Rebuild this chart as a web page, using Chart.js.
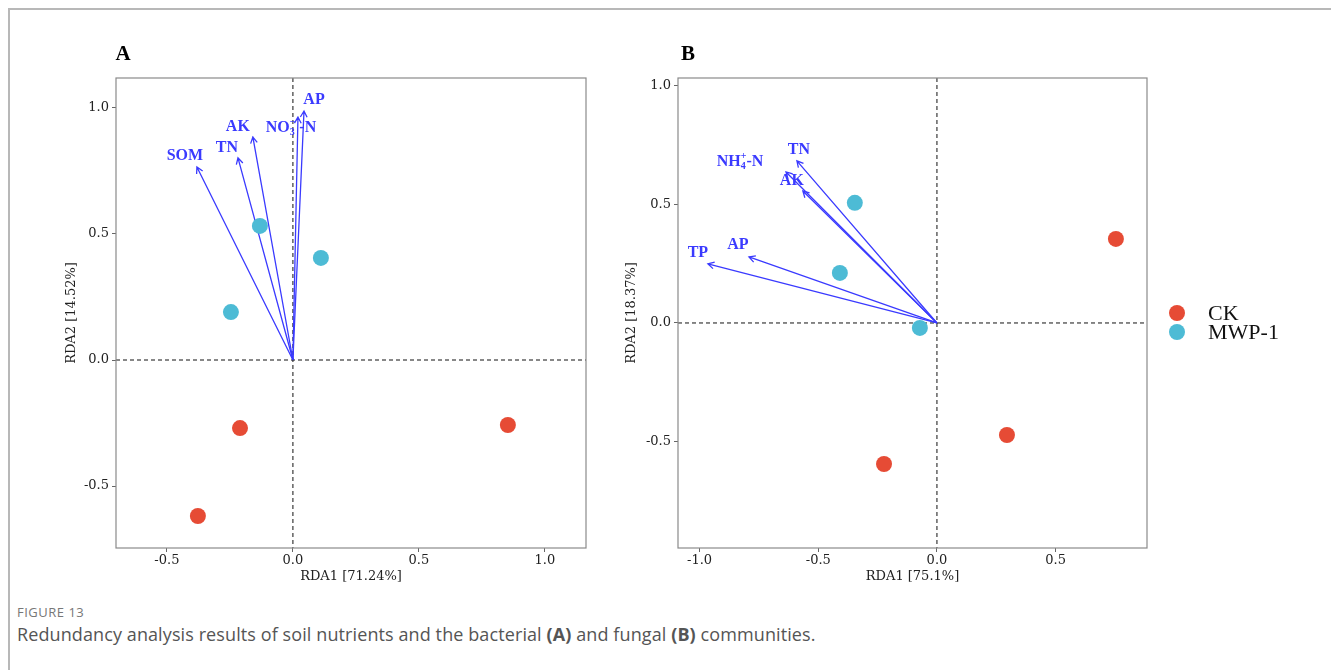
<!DOCTYPE html>
<html>
<head>
<meta charset="utf-8">
<script src="https://cdn.jsdelivr.net/npm/chart.js@4.4.0/dist/chart.umd.min.js"></script>
<style>
    body { margin: 0; width: 1331px; height: 670px; background: #fff; overflow: hidden; position: relative; }
    .frame { position: absolute; left: 8px; top: 8px; width: 1340px; height: 700px; border-top: 2px solid #b8b8b8; border-left: 2px solid #b8b8b8; }
    #chartA { position: absolute; left: 60px; top: 0; }
    #chartB { position: absolute; left: 620px; top: 0; }
    .fig { position: absolute; left: 17px; top: 603px; font-family: 'Open Sans'; font-size: 13px; letter-spacing: 0.5px; color: #777; }
    .cap { position: absolute; left: 17px; top: 622px; font-family: 'Open Sans'; font-size: 18px; letter-spacing: 0.1px; color: #555; }
</style>
</head>
<body>
<div class="frame"></div>
<canvas id="chartA" width="560" height="600"></canvas>
<canvas id="chartB" width="711" height="600"></canvas>
<div class="fig">FIGURE 13</div>
<div class="cap">Redundancy analysis results of soil nutrients and the bacterial <b>(A)</b> and fungal <b>(B)</b> communities.</div>
<script>
// groups
const groups = ['CK', 'MWP-1'];
const groupColors = ['#E64B35', '#4DBBD5'];

// A: bacterial community
const ckA_x = [-0.21, 0.853, -0.377];
const ckA_y = [-0.27, -0.258, -0.619];
const mwpA_x = [-0.131, 0.111, -0.246];
const mwpA_y = [0.532, 0.405, 0.19];
const envA_names = ['SOM', 'TN', 'AK', 'NO3-N', 'AP'];
const envA_x = [-0.381, -0.218, -0.159, 0.020, 0.044];
const envA_y = [0.766, 0.802, 0.885, 0.964, 0.988];
const ticksA_x = [-0.5, 0, 0.5, 1.0];
const ticksA_y = [-0.5, 0, 0.5, 1.0];

// B: fungal community
const ckB_x = [0.754, 0.295, -0.223];
const ckB_y = [0.354, -0.472, -0.594];
const mwpB_x = [-0.346, -0.409, -0.072];
const mwpB_y = [0.506, 0.211, -0.021];
const envB_names = ['TN', 'NH4-N', 'AK', 'AP', 'TP'];
const envB_x = [-0.590, -0.636, -0.565, -0.792, -0.965];
const envB_y = [0.683, 0.636, 0.556, 0.278, 0.249];
const ticksB_x = [-1.0, -0.5, 0, 0.5];
const ticksB_y = [-0.5, 0, 0.5, 1.0];

// label nudges (px) so text sits like the repelled labels in the figure
const labelOffsetA = [[-12, -11], [-11, -10], [-15, -10], [-7, 11], [10, -11]];
const labelOffsetB = [[2, -11], [-46, -10], [-11, -10], [-11, -12], [-10, -11]];

const arrowColor = '#3a3aff';
const serif = 'DejaVu Serif';

function toPoints(xs, ys) {
    return xs.map((x, i) => ({ x: x, y: ys[i] }));
}

// pieces: [text, 0 normal | 1 subscript | -1 superscript]
function labelParts(name) {
    if (name === 'NO3-N') return [['NO', 0], ['3', 1], ['\u2212', -1], [' -N', 0]];
    if (name === 'NH4-N') return [['NH', 0], ['4', 1], ['+', -1], ['-N', 0]];
    return [[name, 0]];
}

function drawLabel(ctx, name, cx, cy) {
    const parts = labelParts(name);
    const big = 'bold 16px "Liberation Serif"';
    const small = 'bold 10px "Liberation Serif"';
    // measure, stacking sub + sup at the same x
    let w = 0;
    for (let i = 0; i < parts.length; i++) {
        const p = parts[i];
        ctx.font = p[1] === 0 ? big : small;
        let pw = ctx.measureText(p[0]).width;
        if (p[1] === 1 && parts[i + 1] && parts[i + 1][1] === -1) {
            pw = Math.max(pw, ctx.measureText(parts[i + 1][0]).width);
            i++;
        }
        w += pw;
    }
    let x = cx - w / 2;
    ctx.fillStyle = arrowColor;
    ctx.textBaseline = 'middle';
    ctx.textAlign = 'left';
    for (let i = 0; i < parts.length; i++) {
        const p = parts[i];
        if (p[1] === 0) {
            ctx.font = big;
            ctx.fillText(p[0], x, cy);
            x += ctx.measureText(p[0]).width;
        } else {
            ctx.font = small;
            ctx.fillText(p[0], x, cy + (p[1] === 1 ? 4 : -6));
            let pw = ctx.measureText(p[0]).width;
            if (p[1] === 1 && parts[i + 1] && parts[i + 1][1] === -1) {
                ctx.fillText(parts[i + 1][0], x, cy - 6);
                pw = Math.max(pw, ctx.measureText(parts[i + 1][0]).width);
                i++;
            }
            x += pw;
        }
    }
}

function makeRdaPlugin(cfg) {
    return {
        id: 'rda' + cfg.letter,
        beforeDatasetsDraw(chart) {
            const ctx = chart.ctx;
            const a = chart.chartArea;
            const xs = chart.scales.x, ys = chart.scales.y;
            const x0 = xs.getPixelForValue(0), y0 = ys.getPixelForValue(0);
            ctx.save();
            // dashed zero lines
            ctx.strokeStyle = '#111';
            ctx.lineWidth = 1;
            ctx.setLineDash([4, 3]);
            ctx.beginPath();
            ctx.moveTo(a.left, y0); ctx.lineTo(a.right, y0);
            ctx.moveTo(x0, a.top); ctx.lineTo(x0, a.bottom);
            ctx.stroke();
            ctx.setLineDash([]);
            // environmental arrows
            ctx.strokeStyle = arrowColor;
            ctx.lineWidth = 1.3;
            cfg.names.forEach((n, i) => {
                const tx = xs.getPixelForValue(cfg.xs[i]);
                const ty = ys.getPixelForValue(cfg.ys[i]);
                const ang = Math.atan2(ty - y0, tx - x0);
                const h = 7;
                ctx.beginPath();
                ctx.moveTo(x0, y0); ctx.lineTo(tx, ty);
                ctx.moveTo(tx - h * Math.cos(ang - 0.5), ty - h * Math.sin(ang - 0.5));
                ctx.lineTo(tx, ty);
                ctx.lineTo(tx - h * Math.cos(ang + 0.5), ty - h * Math.sin(ang + 0.5));
                ctx.stroke();
                drawLabel(ctx, n, tx + cfg.offsets[i][0], ty + cfg.offsets[i][1]);
            });
            ctx.restore();
        },
        afterDraw(chart) {
            const ctx = chart.ctx;
            const a = chart.chartArea;
            ctx.save();
            // panel frame
            ctx.strokeStyle = '#8a8a8a';
            ctx.lineWidth = 1.2;
            ctx.strokeRect(a.left, a.top, a.right - a.left, a.bottom - a.top);
            // panel letter
            ctx.fillStyle = '#000';
            ctx.font = 'bold 21px "Liberation Serif"';
            ctx.textAlign = 'center';
            ctx.textBaseline = 'middle';
            ctx.fillText(cfg.letter, cfg.letterX, 55);
            // legend
            if (cfg.legend) {
                chart.data.datasets.forEach((ds, i) => {
                    const cy = 313 + i * 19;
                    ctx.fillStyle = ds.backgroundColor;
                    ctx.beginPath();
                    ctx.arc(a.right + 30, cy, 8, 0, Math.PI * 2);
                    ctx.fill();
                    ctx.fillStyle = '#111';
                    ctx.font = '22px "Liberation Serif"';
                    ctx.textAlign = 'left';
                    ctx.fillText(ds.label, a.right + 61, cy + 1);
                });
            }
            ctx.restore();
        }
    };
}

function axis(min, max, ticks, title, isY, size) {
    return {
        type: 'linear',
        min: min,
        max: max,
        afterBuildTicks: s => { s.ticks = ticks.map(v => ({ value: v })); },
        afterFit: s => { if (isY) s.width = size; else s.height = size; },
        border: { display: false },
        grid: { drawOnChartArea: false, drawTicks: true, tickLength: 4, color: '#666', tickColor: '#666' },
        ticks: {
            color: '#222',
            padding: isY ? 3 : 1,
            font: { family: serif, size: 13 },
            callback: v => v.toFixed(1)
        },
        title: {
            display: true,
            text: title,
            color: '#222',
            font: { family: serif, size: 13 },
            padding: { top: 4, bottom: 4 }
        }
    };
}

function makeChart(id, d) {
    return new Chart(document.getElementById(id), {
        type: 'scatter',
        data: {
            datasets: [
                { label: groups[0], data: toPoints(d.ckX, d.ckY), backgroundColor: groupColors[0] },
                { label: groups[1], data: toPoints(d.mwpX, d.mwpY), backgroundColor: groupColors[1] }
            ]
        },
        options: {
            responsive: false,
            animation: false,
            events: [],
            elements: { point: { radius: 8, hoverRadius: 8, borderWidth: 0 } },
            layout: { padding: { left: 0, top: 78, right: d.padRight, bottom: 12 } },
            scales: {
                x: axis(d.xMin, d.xMax, d.ticksX, d.xTitle, false, 40),
                y: axis(d.yMin, d.yMax, d.ticksY, d.yTitle, true, d.yWidth)
            },
            plugins: { legend: { display: false }, tooltip: { enabled: false } }
        },
        plugins: [makeRdaPlugin(d.plugin)]
    });
}

makeChart('chartA', {
    ckX: ckA_x, ckY: ckA_y, mwpX: mwpA_x, mwpY: mwpA_y,
    xMin: -0.702, xMax: 1.163, yMin: -0.746, yMax: 1.119,
    ticksX: ticksA_x, ticksY: ticksA_y,
    xTitle: 'RDA1 [71.24%]', yTitle: 'RDA2 [14.52%]',
    padRight: 34, yWidth: 56,
    plugin: { letter: 'A', letterX: 63, names: envA_names, xs: envA_x, ys: envA_y, offsets: labelOffsetA, legend: false }
});

makeChart('chartB', {
    ckX: ckB_x, ckY: ckB_y, mwpX: mwpB_x, mwpY: mwpB_y,
    xMin: -1.091, xMax: 0.885, yMin: -0.948, yMax: 1.032,
    ticksX: ticksB_x, ticksY: ticksB_y,
    xTitle: 'RDA1 [75.1%]', yTitle: 'RDA2 [18.37%]',
    padRight: 184, yWidth: 58,
    plugin: { letter: 'B', letterX: 68, names: envB_names, xs: envB_x, ys: envB_y, offsets: labelOffsetB, legend: true }
});
</script>
</body>
</html>
